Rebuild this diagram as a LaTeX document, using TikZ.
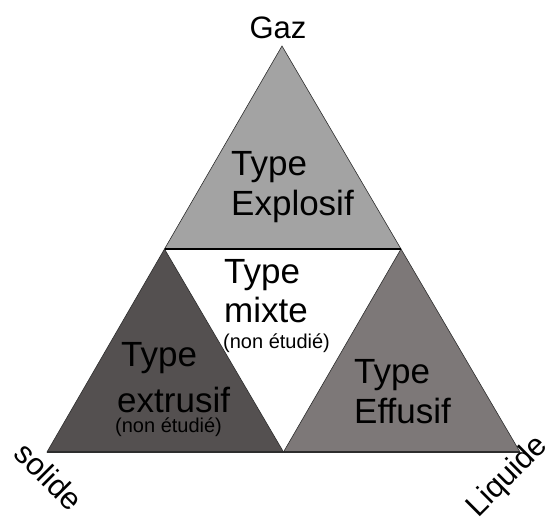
\documentclass[tikz,border=0pt]{standalone}
\usepackage{fontspec}
\setmainfont{Liberation Sans}
\definecolor{explo}{RGB}{163,163,163}
\definecolor{extru}{RGB}{84,80,80}
\definecolor{effu}{RGB}{125,120,120}
\definecolor{edge}{RGB}{45,45,45}
\begin{document}
\begin{tikzpicture}[x=1pt,y=-1pt,
  big/.style={inner sep=0pt,anchor=base west,font=\fontsize{35}{40}\selectfont},
  small/.style={inner sep=0pt,anchor=base west,font=\fontsize{20}{24}\selectfont},
  corner/.style={inner sep=0pt,font=\fontsize{31}{36}\selectfont},
  tri/.style={draw=edge,line width=0.6pt,line join=miter}]
\useasboundingbox (0,0) rectangle (558,523);
\coordinate (A) at (282,46);
\coordinate (L) at (47,452);
\coordinate (R) at (520,452);
\coordinate (ML) at (164.5,249);
\coordinate (MR) at (401,249);
\coordinate (MB) at (283.5,452);
\fill[white] (ML)--(MR)--(MB)--cycle;
\filldraw[tri,fill=explo] (A)--(ML)--(MR)--cycle;
\filldraw[tri,fill=extru] (ML)--(L)--(MB)--cycle;
\filldraw[tri,fill=effu] (MR)--(MB)--(R)--cycle;
\draw[black,line width=1.3pt] (ML)--(MR);
\draw[edge,line width=1.8pt] (L)--(R);
\node[big] (ex1) at (231,175) {Type};
\node[big] (ex2) at (231,215) {Explosif};
\node[big] (mx1) at (224,283) {Type};
\node[big] (mx2) at (224,322) {mixte};
\node[small] (mx3) at (223,348) {(non étudié)};
\node[big] (et1) at (121,366) {Type};
\node[big] (et2) at (117,412) {extrusif};
\node[small] (et3) at (115,432) {(non étudié)};
\node[big] (ef1) at (354,383) {Type};
\node[big] (ef2) at (354,423) {Effusif};
\node[corner,anchor=base] (gaz) at (278,38) {Gaz};
\node[corner,rotate=-45] (sol) at (49,476) {solide};
\node[corner,rotate=45] (liq) at (508,477) {Liquide};
\end{tikzpicture}
\end{document}
